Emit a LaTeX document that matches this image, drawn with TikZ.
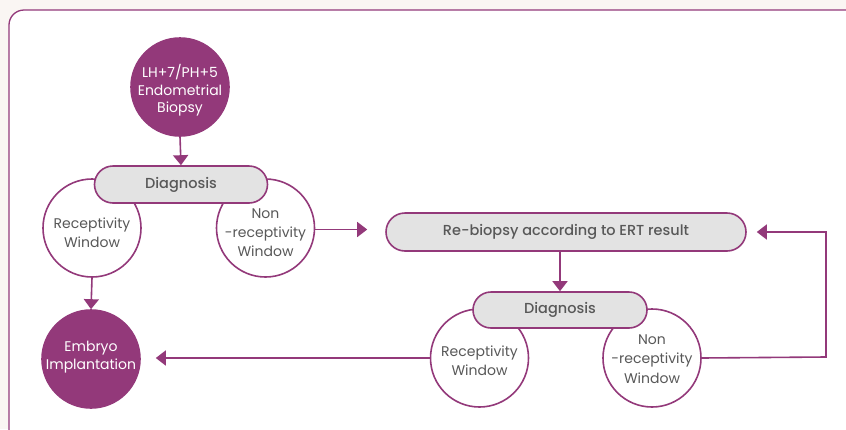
\documentclass[tikz,border=0pt]{standalone}
\usepackage{fontspec}
\setmainfont{Poppins}
\newfontfamily\pmed{Poppins Medium}
\usetikzlibrary{shapes.misc,arrows.meta}
\definecolor{plum}{RGB}{147,57,122}
\definecolor{txtgrey}{RGB}{88,88,88}
\definecolor{pillgrey}{RGB}{227,227,227}
\definecolor{bgcream}{RGB}{250,246,243}
\tikzset{
  filledcirc/.style={circle,fill=plum,draw=plum,line width=1.6pt,minimum size=98pt,inner sep=0pt},
  opencirc/.style={circle,fill=white,draw=plum,line width=1.6pt,minimum size=98pt,inner sep=0pt},
  whitetext/.style={inner sep=0pt,text=white,align=center,font=\fontsize{14}{17.5}\selectfont},
  greytext/.style={inner sep=0pt,text=txtgrey,align=center,font=\fontsize{14}{19.3}\selectfont},
  pill/.style={rounded rectangle,fill=pillgrey,draw=plum,line width=1.6pt,inner sep=0pt,text=txtgrey,font=\pmed\fontsize{14.5}{17}\selectfont},
  arr/.style={draw=plum,line width=1.6pt,-{Triangle[width=15pt,length=10pt]}},
}
\begin{document}
\begin{tikzpicture}[x=1pt,y=-1pt]
\useasboundingbox (0,0) rectangle (846,429);
\fill[bgcream] (0,0) rectangle (846,429);
\draw[plum,line width=1.3pt,fill=white,rounded corners=15pt] (9,10) rectangle (880,445);

% first stage
\node[filledcirc] (bio) at (180,87) {};
\node[whitetext] (biot) at ([yshift=-3.5pt]bio.center) {LH+7/PH+5\\Endometrial\\Biopsy};
\node[opencirc] (rw1) at (92,228) {};
\node[greytext] (rw1t) at ([yshift=-4.5pt]rw1.center) {Receptivity\\Window};
\node[opencirc] (nr1) at (265.5,228) {};
\node[greytext] (nr1t) at ([yshift=-4.5pt]nr1.center) {Non\\-receptivity\\Window};
\node[pill,minimum width=173pt,minimum height=37pt] (d1) at (181,184.5) {Diagnosis};
\node[filledcirc] (emb) at (91,359) {};
\node[whitetext] (embt) at ([yshift=2pt]emb.center) {Embryo\\Implantation};

% second stage
\node[pill,minimum width=360pt,minimum height=38pt] (rb) at (566,232) {Re-biopsy according to ERT result};
\node[opencirc] (rw2) at (479.5,358) {};
\node[greytext] (rw2t) at ([yshift=-3pt]rw2.center) {Receptivity\\Window};
\node[opencirc] (nr2) at (652,358) {};
\node[greytext] (nr2t) at ([yshift=-1pt]nr2.center) {Non\\-receptivity\\Window};
\node[pill,minimum width=174pt,minimum height=36pt] (d2) at (560,310) {Diagnosis};

\coordinate (c1) at (826,357);
\coordinate (c2) at (826,232);

% connectors
\draw[arr] (bio.south) -- (d1.north);
\draw[arr] (rw1.south) -- (emb.north);
\draw[arr,shorten >=18pt] ([yshift=-1.5pt]nr1.east) -- ([yshift=-1.5pt]nr1.east -| rb.west);
\draw[arr] (rb.south -| d2.north) -- (d2.north);
\draw[arr,shorten >=15pt] (rw2.west) -- (rw2.west -| emb.east);
\draw[arr,shorten >=10pt] (nr2.east) -- (c1) -- (c2) -- (rb.east);
\end{tikzpicture}
\end{document}
